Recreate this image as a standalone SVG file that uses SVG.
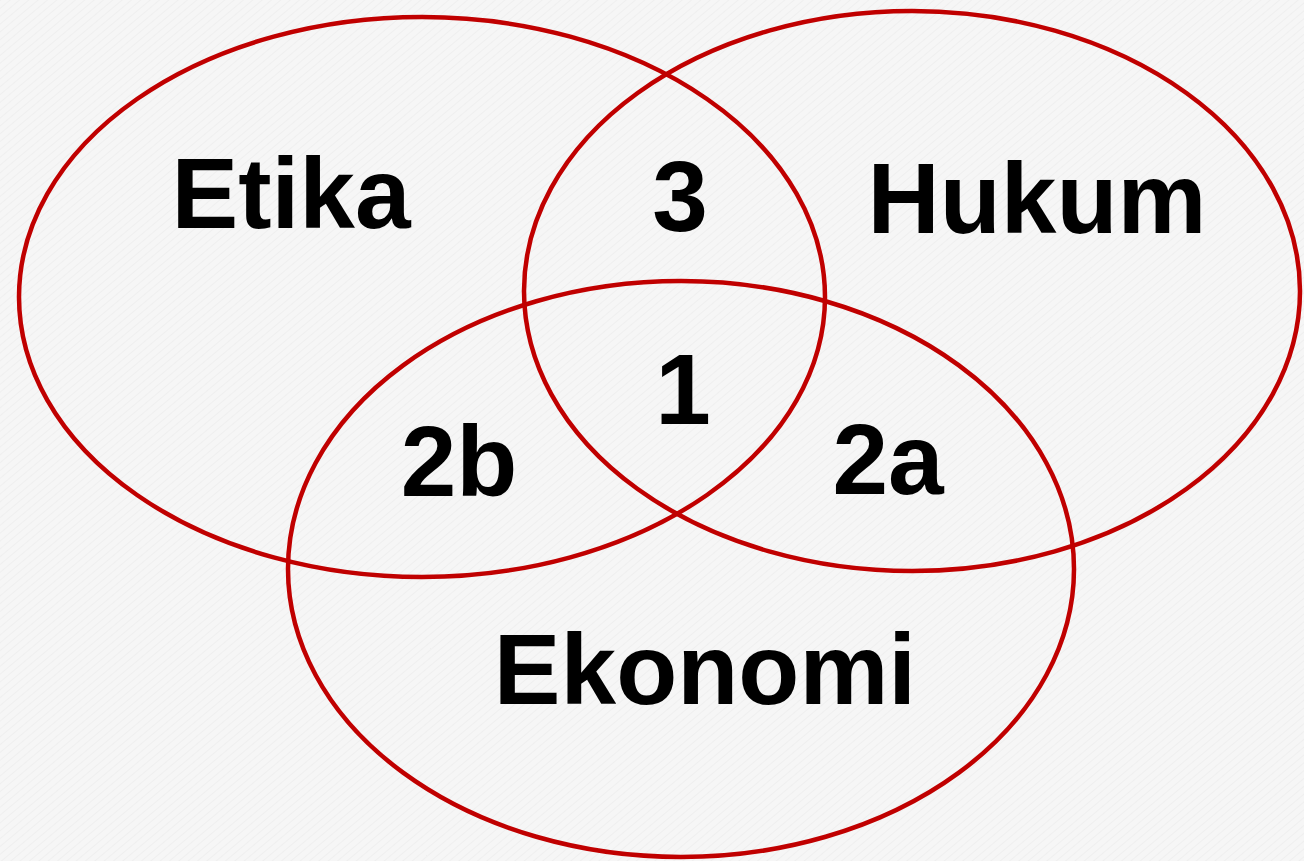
<svg xmlns="http://www.w3.org/2000/svg" width="1304" height="861" viewBox="0 0 1304 861">
<defs>
<pattern id="tex" width="6" height="6" patternUnits="userSpaceOnUse" patternTransform="rotate(-40)">
<rect width="6" height="6" fill="#f6f6f6"/>
<line x1="0" y1="0" x2="6" y2="0" stroke="#ededed" stroke-width="1.5"/>
</pattern>
<style>
.ring{fill:none;stroke:#c00000;stroke-width:4.5}
.lbl{font-family:"Liberation Sans",Arial,sans-serif;font-weight:bold;font-size:100px;fill:#000;text-anchor:middle}
</style>
</defs>
<rect width="1304" height="861" fill="url(#tex)"/>
<g id="etika"><ellipse class="ring" cx="422" cy="297" rx="403" ry="280"/><text class="lbl" x="291" y="228">Etika</text></g>
<g id="hukum"><ellipse class="ring" cx="912" cy="291" rx="388" ry="280"/><text class="lbl" x="1037" y="233">Hukum</text></g>
<g id="ekonomi"><ellipse class="ring" cx="681" cy="569" rx="393" ry="288"/><text class="lbl" x="705" y="704">Ekonomi</text></g>
<g id="r3"><text class="lbl" x="680" y="231">3</text></g>
<g id="r1"><text class="lbl" x="683" y="424">1</text></g>
<g id="r2b"><text class="lbl" x="459" y="496">2b</text></g>
<g id="r2a"><text class="lbl" x="888" y="494">2a</text></g>
<g id="connectors"/>
</svg>
